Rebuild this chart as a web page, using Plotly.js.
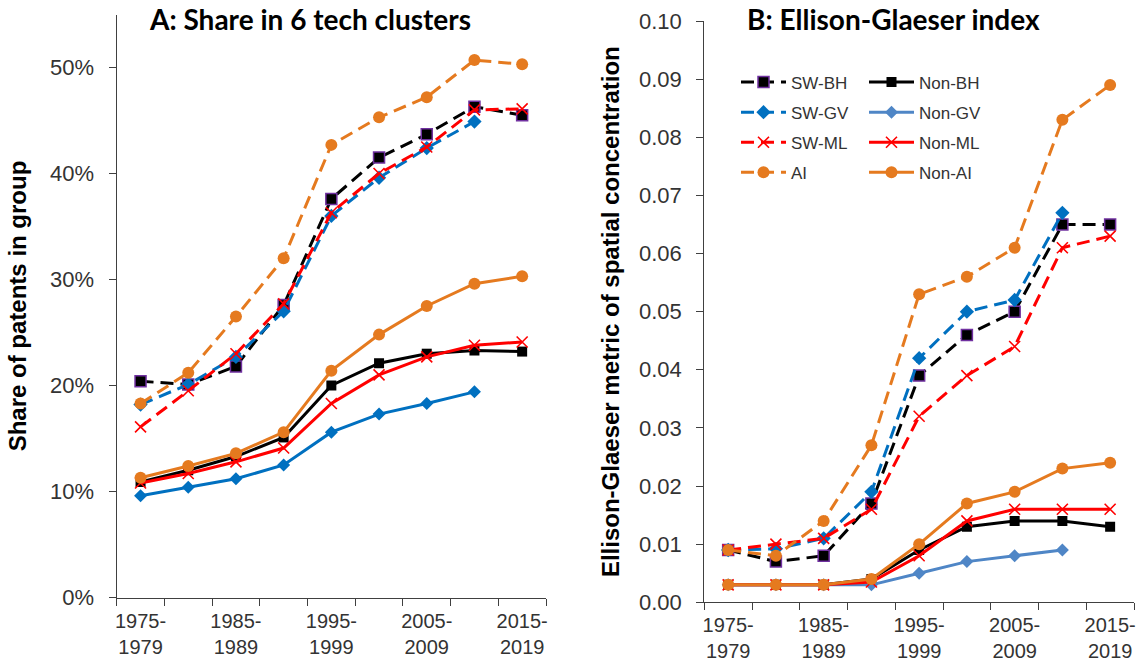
<!DOCTYPE html>
<html><head><meta charset="utf-8">
<script src="https://cdn.plot.ly/plotly-3.0.1.min.js"></script>
<style>html,body{margin:0;padding:0;background:#fff}#chart{width:1139px;height:662px}</style>
</head><body><div id="chart"></div>
<script>
// ---- categories & tick labels ----
const periods = ['1975-1979','1980-1984','1985-1989','1990-1994','1995-1999','2000-2004','2005-2009','2010-2014','2015-2019'];
const labelIdx = [0, 2, 4, 6, 8];
const tickLabels = ['1975-<br>1979','1985-<br>1989','1995-<br>1999','2005-<br>2009','2015-<br>2019'];

// ---- Panel A: share of patents in 6 tech clusters ----
const shareSWBH  = [0.204, 0.201, 0.218, 0.276, 0.376, 0.415, 0.437, 0.463, 0.455];
const shareSWGV  = [0.182, 0.201, 0.227, 0.270, 0.360, 0.396, 0.424, 0.449, null];
const shareSWML  = [0.161, 0.195, 0.230, 0.277, 0.363, 0.400, 0.425, 0.460, 0.461];
const shareAI    = [0.183, 0.212, 0.265, 0.320, 0.427, 0.453, 0.472, 0.507, 0.503];
const shareNonBH = [0.109, 0.120, 0.133, 0.151, 0.200, 0.221, 0.230, 0.233, 0.232];
const shareNonGV = [0.096, 0.104, 0.112, 0.125, 0.156, 0.173, 0.183, 0.194, null];
const shareNonML = [0.108, 0.117, 0.128, 0.141, 0.183, 0.210, 0.227, 0.238, 0.241];
const shareNonAI = [0.113, 0.124, 0.136, 0.156, 0.214, 0.248, 0.275, 0.296, 0.303];

// ---- Panel B: Ellison-Glaeser index ----
const egSWBH  = [0.009, 0.007, 0.008, 0.017, 0.039, 0.046, 0.050, 0.065, 0.065];
const egSWGV  = [0.009, 0.0092, 0.011, 0.019, 0.042, 0.050, 0.052, 0.067, null];
const egSWML  = [0.009, 0.010, 0.011, 0.016, 0.032, 0.039, 0.044, 0.061, 0.063];
const egAI    = [0.009, 0.008, 0.014, 0.027, 0.053, 0.056, 0.061, 0.083, 0.089];
const egNonBH = [0.003, 0.003, 0.003, 0.004, 0.009, 0.013, 0.014, 0.014, 0.013];
const egNonGV = [0.003, 0.003, 0.003, 0.003, 0.005, 0.007, 0.008, 0.009, null];
const egNonML = [0.003, 0.003, 0.003, 0.0035, 0.008, 0.014, 0.016, 0.016, 0.016];
const egNonAI = [0.003, 0.003, 0.003, 0.004, 0.010, 0.017, 0.019, 0.023, 0.024];

const seriesNames = ['SW-BH','Non-BH','SW-GV','Non-GV','SW-ML','Non-ML','AI','Non-AI'];

const BLACK = '#000000', BLUE = '#0070C0', BLUE2 = '#4F86C6', RED = '#FF0000', ORANGE = '#E57A1F', PURPLE = '#7030A0';
const DASH = '13px,7px';

const styles = {
  'SW-BH':  {color: BLACK,  dash: DASH,    symbol: 'square',  size: 11, mline: {color: PURPLE, width: 1.5}},
  'Non-BH': {color: BLACK,  dash: 'solid', symbol: 'square',  size: 10, mline: {color: BLACK, width: 0}},
  'SW-GV':  {color: BLUE,   dash: DASH,    symbol: 'diamond', size: 11, mline: {color: BLUE, width: 0}},
  'Non-GV': {color: BLUE,   dash: 'solid', symbol: 'diamond', size: 10, mline: {color: BLUE, width: 0}},
  'SW-ML':  {color: RED,    dash: DASH,    symbol: 'x-thin',  size: 11, mline: {color: RED, width: 1.6}},
  'Non-ML': {color: RED,    dash: 'solid', symbol: 'x-thin',  size: 11, mline: {color: RED, width: 1.6}},
  'AI':     {color: ORANGE, dash: DASH,    symbol: 'circle',  size: 12, mline: {color: ORANGE, width: 0}},
  'Non-AI': {color: ORANGE, dash: 'solid', symbol: 'circle',  size: 12, mline: {color: ORANGE, width: 0}}
};

const shareData = {'SW-BH': shareSWBH, 'Non-BH': shareNonBH, 'SW-GV': shareSWGV, 'Non-GV': shareNonGV,
                   'SW-ML': shareSWML, 'Non-ML': shareNonML, 'AI': shareAI, 'Non-AI': shareNonAI};
const egData = {'SW-BH': egSWBH, 'Non-BH': egNonBH, 'SW-GV': egSWGV, 'Non-GV': egNonGV,
                'SW-ML': egSWML, 'Non-ML': egNonML, 'AI': egAI, 'Non-AI': egNonAI};

const xIdx = periods.map((_, i) => i);
const bounds = periods.map((_, i) => i - 0.5).concat([periods.length - 0.5]);

function makeTrace(name, yv, xa, ya, showLegend, overrideColor) {
  const s = styles[name];
  const col = overrideColor || s.color;
  const isSW = !name.startsWith('Non');
  return {
    type: 'scatter', mode: 'lines+markers', name: name,
    x: xIdx, y: yv, xaxis: xa, yaxis: ya,
    connectgaps: false,
    line: {color: col, width: 3, dash: s.dash},
    marker: {symbol: s.symbol, size: s.size, color: col,
             line: {color: s.symbol === 'x-thin' ? col : s.mline.color, width: s.mline.width}},
    showlegend: showLegend,
    legend: isSW ? 'legend' : 'legend2',
    legendgroup: xa + '-' + name,
    hoverinfo: 'x+y+name'
  };
}

const traces = [];
seriesNames.forEach(n => traces.push(makeTrace(n, shareData[n], 'x', 'y', false)));
seriesNames.forEach(n => traces.push(makeTrace(n, egData[n], 'x2', 'y2', true, n === 'Non-GV' ? BLUE2 : null)));

const AX = '#404040';
const TXT = '#333333';
const FONT = 'Liberation Sans, Arial, sans-serif';

function xAxis(domain, anchor) {
  return {
    domain: domain, anchor: anchor, range: [-0.5, periods.length - 0.5],
    tickmode: 'array', tickvals: labelIdx, ticktext: tickLabels, ticks: '',
    ticklabelstandoff: 5,
    showline: true, linecolor: AX, linewidth: 1.3, showgrid: false, zeroline: false,
    tickfont: {family: FONT, size: 20, color: TXT},
    minor: {tickmode: 'array', tickvals: bounds, ticks: 'outside', ticklen: 7, tickcolor: AX, tickwidth: 1.3, showgrid: false},
    fixedrange: true
  };
}

const legendCommon = {
  yanchor: 'top', bgcolor: 'rgba(0,0,0,0)', borderwidth: 0,
  font: {family: FONT, size: 17, color: TXT}, itemwidth: 45,
  traceorder: 'grouped', tracegroupgap: 5
};

const layout = {
  width: 1139, height: 662,
  margin: {l: 0, r: 0, t: 0, b: 0},
  paper_bgcolor: '#ffffff', plot_bgcolor: '#ffffff',
  font: {family: FONT, color: TXT},
  xaxis: xAxis([116.7/1139, 546/1139], 'y'),
  xaxis2: xAxis([704.3/1139, 1134/1139], 'y2'),
  yaxis: {
    domain: [(662-597.5)/662, (662-14.5)/662], anchor: 'x', range: [0, 0.55],
    tickmode: 'array', tickvals: [0, 0.1, 0.2, 0.3, 0.4, 0.5], tickformat: '.0%',
    ticks: 'outside', ticklen: 7, tickcolor: AX, tickwidth: 1.3, ticklabelstandoff: 10,
    showline: true, linecolor: AX, linewidth: 1.3, showgrid: false, zeroline: false,
    tickfont: {family: FONT, size: 22, color: TXT},
    title: {text: '<b>Share of patents in group</b>', font: {family: FONT, size: 24, color: '#000'}, standoff: 16},
    fixedrange: true
  },
  yaxis2: {
    domain: [(662-602.3)/662, (662-21)/662], anchor: 'x2', range: [0, 0.1],
    tickmode: 'linear', tick0: 0, dtick: 0.01, tickformat: '.2f',
    ticks: 'outside', ticklen: 7, tickcolor: AX, tickwidth: 1.3, ticklabelstandoff: 10,
    showline: true, linecolor: AX, linewidth: 1.3, showgrid: false, zeroline: false,
    tickfont: {family: FONT, size: 22, color: TXT},
    title: {text: '<b>Ellison-Glaeser metric of spatial concentration</b>', font: {family: FONT, size: 24, color: '#000'}, standoff: 12},
    fixedrange: true
  },
  legend: Object.assign({x: 736/1139, xanchor: 'left', y: (662-64.5)/662}, legendCommon),
  legend2: Object.assign({x: 864/1139, xanchor: 'left', y: (662-64.5)/662}, legendCommon),
  annotations: [
    {text: '<b>A: Share in 6 tech clusters</b>', xref: 'paper', yref: 'paper',
     x: 310/1139, y: (662-19)/662, xanchor: 'center', yanchor: 'middle', showarrow: false,
     font: {family: 'Lato, Open Sans, sans-serif', size: 28, color: '#000'}},
    {text: '<b>B: Ellison-Glaeser index</b>', xref: 'paper', yref: 'paper',
     x: 893/1139, y: (662-19)/662, xanchor: 'center', yanchor: 'middle', showarrow: false,
     font: {family: 'Lato, Open Sans, sans-serif', size: 28, color: '#000'}}
  ],
  hovermode: 'closest'
};

Plotly.newPlot('chart', traces, layout, {displayModeBar: false, responsive: false});
</script>
</body></html>
